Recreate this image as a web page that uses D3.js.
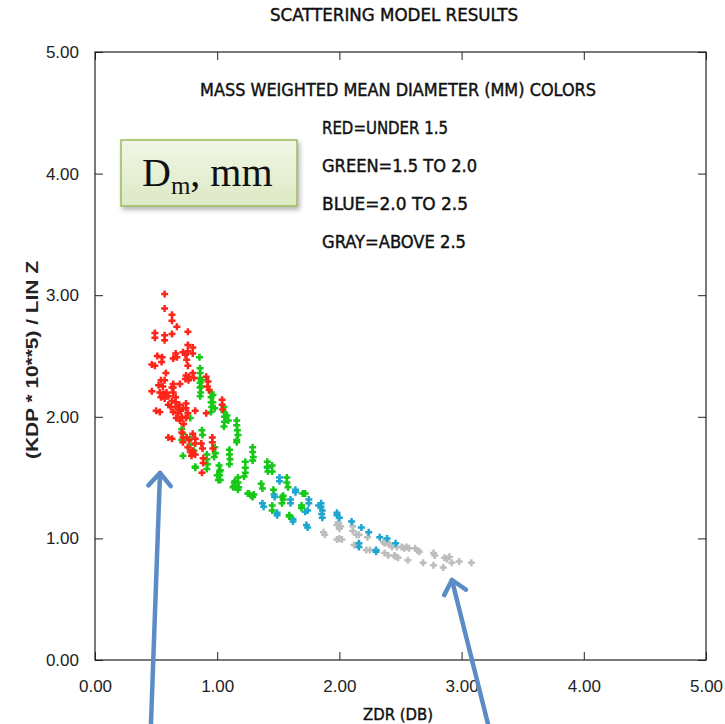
<!DOCTYPE html>
<html lang="en">
<head>
<meta charset="utf-8">
<title>Scattering model results</title>
<script src="https://d3js.org/d3.v7.min.js"></script>
<style>
  body { margin: 0; background: #fff; }
  svg { display: block; }
  .hershey { font-family: "DejaVu Sans Condensed", "DejaVu Sans", sans-serif; fill: #111; stroke: #111; stroke-width: 0.4px; }
  .tick line { stroke: #222; }
</style>
</head>
<body>
<div id="chart"></div>
<script>
// ---- data: [ZDR (dB), KDP*1e5 / lin Z] ----
var redPts = [
  [0.57,3.01],[0.57,2.89],[0.63,2.84],[0.63,2.79],[0.67,2.74],[0.76,2.70],[0.49,2.69],[0.49,2.65],
  [0.57,2.67],[0.57,2.63],[0.63,2.68],[0.76,2.59],[0.76,2.54],[0.80,2.57],[0.80,2.52],[0.51,2.50],
  [0.55,2.49],[0.545,2.45],[0.66,2.52],[0.64,2.48],[0.67,2.49],[0.72,2.53],[0.74,2.51],[0.465,2.43],
  [0.49,2.42],[0.76,2.42],[0.75,2.47],[0.58,2.36],[0.745,2.34],[0.77,2.33],[0.74,2.31],[0.765,2.30],
  [0.80,2.36],[0.81,2.32],[0.54,2.30],[0.57,2.30],[0.555,2.25],[0.52,2.26],[0.64,2.27],[0.64,2.24],
  [0.695,2.27],[0.465,2.21],[0.53,2.20],[0.56,2.19],[0.585,2.20],[0.54,2.16],[0.57,2.15],[0.60,2.17],
  [0.63,2.24],[0.64,2.20],[0.66,2.16],[0.63,2.13],[0.66,2.12],[0.69,2.10],[0.62,2.08],[0.66,2.08],
  [0.69,2.06],[0.64,2.04],[0.68,2.03],[0.71,2.00],[0.665,1.99],[0.695,1.97],[0.725,1.94],[0.70,2.05],
  [0.60,2.10],[0.72,2.07],[0.50,2.05],[0.53,2.04],[0.745,2.11],[0.745,2.07],[0.76,2.03],[0.745,1.99],
  [0.82,2.05],[0.71,1.87],[0.72,1.83],[0.72,1.79],[0.60,1.83],[0.63,1.82],[0.75,1.83],[0.77,1.81],
  [0.76,1.75],[0.78,1.71],[0.79,1.68],[0.80,1.86],[0.82,1.82],[0.82,1.78],[0.87,1.78],[0.88,1.74],
  [0.91,2.33],[0.925,2.29],[0.92,2.25],[0.935,2.22],[0.91,2.03],[1.04,2.14],[1.04,2.10],[1.045,2.06],
  [0.885,1.66],[0.885,1.62],[0.875,1.54],[0.96,1.83],[0.96,1.79],[0.965,1.74],[0.80,1.72],[0.82,1.69]
];
var greenPts = [
  [0.855,2.49],[0.86,2.40],[0.86,2.36],[0.86,2.32],[0.86,2.28],[0.86,2.24],[0.865,2.20],[0.86,2.17],
  [0.87,2.30],[0.87,2.25],[0.95,2.20],[0.95,2.16],[0.95,2.12],[0.955,2.08],[0.95,2.04],[0.965,2.18],
  [0.965,2.12],[0.98,2.07],[1.055,2.08],[1.055,2.04],[1.06,2.00],[1.06,1.96],[1.055,1.92],[1.08,2.01],
  [1.09,1.97],[1.16,1.97],[1.16,1.93],[1.165,1.89],[1.17,1.85],[1.16,1.81],[1.16,1.79],[1.29,1.75],
  [1.29,1.71],[1.295,1.67],[1.29,1.64],[1.23,1.63],[1.23,1.58],[1.23,1.54],[1.22,1.51],[1.10,1.73],
  [1.10,1.69],[1.105,1.65],[1.10,1.61],[1.015,1.60],[1.02,1.55],[1.025,1.56],[1.02,1.52],[1.025,1.48],
  [0.98,1.75],[0.985,1.70],[0.975,1.67],[0.915,1.69],[0.915,1.65],[0.92,1.61],[0.915,1.57],[0.875,1.89],
  [0.88,1.85],[0.78,1.99],[0.71,1.90],[0.72,1.86],[0.71,1.81],[0.72,1.68],[0.82,1.59],[0.82,1.58],
  [0.78,1.82],[0.78,1.77],[0.81,1.72],[1.41,1.63],[1.41,1.59],[1.415,1.55],[1.17,1.50],[1.17,1.46],
  [1.175,1.42],[1.17,1.40],[1.57,1.50],[1.57,1.46],[1.58,1.42],[1.36,1.45],[1.37,1.41],[1.14,1.46],
  [1.14,1.43],[1.13,1.42],[1.72,1.37],[1.53,1.34],[1.53,1.29],[1.69,1.27],[1.69,1.25],[1.26,1.37],
  [1.29,1.34],[1.45,1.60],[1.45,1.55],[1.54,1.35],[1.54,1.32],[1.59,1.19],[1.59,1.18],[1.70,1.37],
  [1.45,1.27],[1.45,1.23],[1.00,1.52],[1.01,1.48],[1.145,1.47],[1.145,1.43],[1.25,1.37],[1.28,1.35],
  [1.30,1.36],[1.46,1.40]
];
var bluePts = [
  [1.41,1.58],[1.51,1.50],[1.51,1.47],[1.64,1.40],[1.64,1.38],[1.465,1.36],[1.47,1.34],[1.60,1.32],
  [1.60,1.29],[1.75,1.32],[1.75,1.29],[1.83,1.27],[1.37,1.29],[1.38,1.26],[1.74,1.23],[1.72,1.22],
  [1.49,1.21],[1.49,1.19],[1.62,1.16],[1.62,1.14],[1.85,1.29],[1.85,1.26],[1.86,1.23],[1.855,1.20],
  [1.86,1.17],[1.73,1.11],[1.74,1.09],[1.98,1.21],[1.98,1.19],[2.00,1.17],[2.10,1.14],[2.18,1.09],
  [2.24,1.05],[2.33,1.01],[2.39,1.00],[2.46,0.96],[2.16,0.96],[2.16,0.93],[2.30,0.905],[2.30,0.89]
];
var grayPts = [
  [1.99,1.13],[2.01,1.10],[2.00,1.08],[1.98,1.11],[1.87,1.05],[1.88,1.03],[2.00,1.00],[2.02,0.99],
  [1.98,0.99],[2.11,1.10],[2.11,1.06],[2.14,1.03],[2.16,1.03],[2.23,1.01],[2.36,0.97],[2.37,0.96],
  [2.40,0.96],[2.41,0.95],[2.43,0.93],[2.47,0.93],[2.51,0.93],[2.53,0.92],[2.55,0.93],[2.57,0.92],
  [2.62,0.92],[2.64,0.90],[2.655,0.89],[2.12,0.945],[2.15,0.945],[2.22,0.905],[2.25,0.905],[2.37,0.88],
  [2.40,0.86],[2.45,0.86],[2.46,0.85],[2.48,0.84],[2.56,0.82],[2.685,0.80],[2.77,0.88],[2.78,0.86],
  [2.77,0.78],[2.86,0.84],[2.88,0.83],[2.90,0.85],[2.85,0.76],[2.92,0.80],[2.98,0.81],[3.08,0.80]
];
var axisTicks = [0, 1, 2, 3, 4, 5];
var legendLines = ["RED=UNDER 1.5", "GREEN=1.5 TO 2.0", "BLUE=2.0 TO 2.5", "GRAY=ABOVE 2.5"];
// annotation arrows, [tail, tip] in data units
var arrows = [
  [[0.458, -0.526], [0.532, 1.538]],
  [[3.216, -0.526], [2.921, 0.658]]
];

var W = 725, H = 724;
var margin = {top: 52, right: 19, bottom: 64, left: 95},
    width = W - margin.left - margin.right,
    height = H - margin.top - margin.bottom;

var svg = d3.select("#chart").append("svg")
    .attr("width", W).attr("height", H);

var x = d3.scaleLinear().domain([0, 5]).range([margin.left, margin.left + width]);
var y = d3.scaleLinear().domain([0, 5]).range([margin.top + height, margin.top]);
var fmt = d3.format(".2f");

// title
svg.append("text").attr("class", "hershey")
  .attr("x", 394).attr("y", 21).attr("text-anchor", "middle")
  .attr("font-size", 17).attr("textLength", 248).attr("lengthAdjust", "spacingAndGlyphs")
  .text("SCATTERING MODEL RESULTS");

// axes: labels on bottom/left, inward ticks on all sides
function styleAxis(g) {
  g.select(".domain").remove();
  g.selectAll(".tick text")
    .style("font-family", "'Liberation Sans', Arial, sans-serif")
    .style("font-size", "17px")
    .attr("fill", "#222");
}
svg.append("g").attr("transform", "translate(0," + y(0) + ")")
  .call(d3.axisBottom(x).tickValues(axisTicks).tickSizeInner(-8).tickSizeOuter(0).tickPadding(20).tickFormat(fmt))
  .call(styleAxis);
svg.append("g").attr("transform", "translate(" + x(0) + ",0)")
  .call(d3.axisLeft(y).tickValues(axisTicks).tickSizeInner(-8).tickSizeOuter(0).tickPadding(16).tickFormat(fmt))
  .call(styleAxis);
svg.append("g").attr("transform", "translate(0," + y(5) + ")")
  .call(d3.axisTop(x).tickValues(axisTicks).tickSizeInner(-8).tickSizeOuter(0).tickFormat(""))
  .call(styleAxis);
svg.append("g").attr("transform", "translate(" + x(5) + ",0)")
  .call(d3.axisRight(y).tickValues(axisTicks).tickSizeInner(-8).tickSizeOuter(0).tickFormat(""))
  .call(styleAxis);

svg.append("rect")
  .attr("x", x(0)).attr("y", y(5))
  .attr("width", x(5) - x(0)).attr("height", y(0) - y(5))
  .attr("fill", "none").attr("stroke", "#222").attr("stroke-width", 1.2);

// axis titles
svg.append("text").attr("class", "hershey")
  .attr("x", 398).attr("y", 720).attr("text-anchor", "middle")
  .attr("font-size", 16).attr("textLength", 70).attr("lengthAdjust", "spacingAndGlyphs")
  .text("ZDR (DB)");
svg.append("text")
  .attr("transform", "translate(38,360) rotate(-90)")
  .attr("text-anchor", "middle")
  .style("font-family", "'Liberation Sans', Arial, sans-serif").style("font-size", "16px").style("font-weight", "bold")
  .attr("fill", "#222")
  .attr("textLength", 198).attr("lengthAdjust", "spacingAndGlyphs")
  .text("(KDP * 10**5) / LIN Z");

// legend text
svg.append("text").attr("class", "hershey")
  .attr("x", 398).attr("y", 96).attr("text-anchor", "middle")
  .attr("font-size", 17).attr("textLength", 396).attr("lengthAdjust", "spacingAndGlyphs")
  .text("MASS WEIGHTED MEAN DIAMETER (MM) COLORS");
var legendW = [126, 155, 146, 144];
svg.selectAll(".leg").data(legendLines).enter().append("text")
  .attr("class", "hershey leg")
  .attr("x", 322).attr("y", function(d, i) { return 134 + i * 38; })
  .attr("font-size", 17)
  .attr("textLength", function(d, i) { return legendW[i]; }).attr("lengthAdjust", "spacingAndGlyphs")
  .text(function(d) { return d; });

// scatter: plus markers
var plus = "M-3.5,0H3.5M0,-3.5V3.5";
function drawPts(data, color) {
  svg.append("g").selectAll("path").data(data).enter().append("path")
    .attr("d", plus)
    .attr("transform", function(d) { return "translate(" + x(d[0]) + "," + y(d[1]) + ")"; })
    .attr("stroke", color).attr("stroke-width", 2.5).attr("fill", "none");
}
drawPts(grayPts, "#bdbdbd");
drawPts(bluePts, "#1fa6cf");
drawPts(greenPts, "#16c916");
drawPts(redPts, "#ff2418");

// D_m box
var defs = svg.append("defs");
var grad = defs.append("linearGradient").attr("id", "boxfill").attr("x1", 0).attr("y1", 0).attr("x2", 0).attr("y2", 1);
grad.append("stop").attr("offset", "0%").attr("stop-color", "#f1f6e6");
grad.append("stop").attr("offset", "100%").attr("stop-color", "#dde9c4");
var filt = defs.append("filter").attr("id", "shadow").attr("x", "-10%").attr("y", "-10%").attr("width", "130%").attr("height", "140%");
filt.append("feDropShadow").attr("dx", 2).attr("dy", 3).attr("stdDeviation", 2.5).attr("flood-color", "#000").attr("flood-opacity", 0.3);
svg.append("rect")
  .attr("x", 121).attr("y", 140).attr("width", 176).attr("height", 66)
  .attr("fill", "url(#boxfill)").attr("stroke", "#9bbb59").attr("stroke-width", 1.5)
  .attr("filter", "url(#shadow)");
var dm = svg.append("text")
  .attr("x", 142).attr("y", 186)
  .style("font-family", "'Liberation Serif', 'Times New Roman', serif").style("font-size", "40px")
  .attr("fill", "#111");
dm.append("tspan").text("D");
dm.append("tspan").attr("dy", 8).style("font-size", "25px").text("m");
dm.append("tspan").attr("dy", -8).text(", mm");

// arrows
var arrowColor = "#5b8cc6";
arrows.forEach(function(a) {
  var x0 = x(a[0][0]), y0 = y(a[0][1]), x1 = x(a[1][0]), y1 = y(a[1][1]);
  svg.append("line")
    .attr("x1", x0).attr("y1", y0).attr("x2", x1).attr("y2", y1)
    .attr("stroke", arrowColor).attr("stroke-width", 4.5).attr("stroke-linecap", "round");
  var ang = Math.atan2(y0 - y1, x0 - x1), len = 17, spread = 0.72;
  var p1 = [x1 + len * Math.cos(ang + spread), y1 + len * Math.sin(ang + spread)];
  var p2 = [x1 + len * Math.cos(ang - spread), y1 + len * Math.sin(ang - spread)];
  svg.append("path")
    .attr("d", "M" + p1 + "L" + x1 + "," + y1 + "L" + p2)
    .attr("stroke", arrowColor).attr("stroke-width", 4.5).attr("fill", "none")
    .attr("stroke-linecap", "round").attr("stroke-linejoin", "round");
});
</script>
</body>
</html>
